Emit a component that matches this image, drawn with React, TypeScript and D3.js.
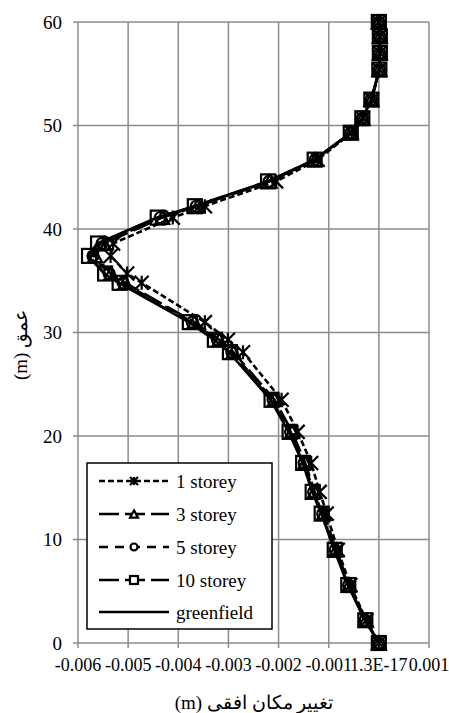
import React from "react";
import * as d3 from "d3";

const depths = [60, 58.6, 57.0, 55.4, 52.5, 50.7, 49.3, 46.7, 44.6, 42.2, 41.1, 38.6, 37.4, 35.7, 34.8, 31.0, 29.3, 28.1, 23.5, 20.4, 17.4, 14.6, 12.5, 9.0, 5.6, 2.2, 0];

const storey1 = [0, 0.00002, 0.00002, 0.00001, -0.00014, -0.00032, -0.00054, -0.00122, -0.00205, -0.00347, -0.00411, -0.00530, -0.00535, -0.00502, -0.00473, -0.00347, -0.00301, -0.00271, -0.00194, -0.00162, -0.00135, -0.00118, -0.00104, -0.00082, -0.00057, -0.00025, 0];
const storey3 = [0, 0.00002, 0.00002, 0.00001, -0.00015, -0.00033, -0.00056, -0.00127, -0.00218, -0.00362, -0.00432, -0.00548, -0.00566, -0.00534, -0.00506, -0.00368, -0.00318, -0.00290, -0.00208, -0.00173, -0.00147, -0.00128, -0.00110, -0.00085, -0.00059, -0.00026, 0];
const storey5 = [0, 0.00002, 0.00002, 0.00001, -0.00015, -0.00033, -0.00056, -0.00127, -0.00219, -0.00364, -0.00436, -0.00552, -0.00570, -0.00538, -0.00510, -0.00372, -0.00322, -0.00293, -0.00211, -0.00176, -0.00149, -0.00130, -0.00112, -0.00087, -0.00060, -0.00027, 0];
const storey10 = [0, 0.00002, 0.00002, 0.00001, -0.00015, -0.00033, -0.00056, -0.00128, -0.00221, -0.00367, -0.00441, -0.00560, -0.00578, -0.00546, -0.00517, -0.00377, -0.00327, -0.00297, -0.00214, -0.00178, -0.00151, -0.00132, -0.00114, -0.00088, -0.00061, -0.00027, 0];
const greenfield = [0, 0.00002, 0.00002, 0.00001, -0.00015, -0.00033, -0.00056, -0.00128, -0.00222, -0.00368, -0.00443, -0.00562, -0.00580, -0.00548, -0.00519, -0.00379, -0.00329, -0.00299, -0.00216, -0.00180, -0.00152, -0.00133, -0.00115, -0.00089, -0.00062, -0.00028, 0];

const xTickValues = [-0.006, -0.005, -0.004, -0.003, -0.002, -0.001, 0, 0.001];
const xTickLabels = ["-0.006", "-0.005", "-0.004", "-0.003", "-0.002", "-0.001", "1.3E-17", "0.001"];
const yTickValues = [0, 10, 20, 30, 40, 50, 60];

const seriesNames = ["1 storey", "3 storey", "5 storey", "10 storey", "greenfield"];
const seriesValues = [storey1, storey3, storey5, storey10, greenfield];
const seriesMarkers = ["asterisk", "triangle", "circle", "square", "none"];
const seriesDash = ["6 3", "20 6", "9 7", "20 6", ""];

const W = 449, H = 713;
const left = 78, right = 429, top = 22, bottom = 643;
const FONT = "Liberation Serif, DejaVu Serif, serif";

function Marker({ type, x, y, s, fill }: { type: string; x: number; y: number; s: number; fill: string }) {
  const sw = 2.2;
  if (type === "square") return <rect x={x - s / 2} y={y - s / 2} width={s} height={s} fill={fill} stroke="#000" strokeWidth={sw} />;
  if (type === "circle") return <circle cx={x} cy={y} r={s / 2 - 0.5} fill={fill} stroke="#000" strokeWidth={sw} />;
  if (type === "triangle") {
    const h = s * 0.9;
    return <path d={`M${x},${y - h / 2}L${x + s / 2},${y + h / 2}L${x - s / 2},${y + h / 2}Z`} fill={fill} stroke="#000" strokeWidth={sw} />;
  }
  if (type === "asterisk") {
    const r = s / 2;
    return (
      <path d={`M${x - r},${y - r}L${x + r},${y + r}M${x - r},${y + r}L${x + r},${y - r}M${x},${y - r}L${x},${y + r}`} stroke="#000" strokeWidth={sw} fill="none" />
    );
  }
  return null;
}

export default function App() {
  const x = d3.scaleLinear().domain([-0.006, 0.001]).range([left, right]);
  const y = d3.scaleLinear().domain([0, 60]).range([bottom, top]);
  const line = d3.line<[number, number]>().x((d) => x(d[0])).y((d) => y(d[1]));

  const legendRows = [481, 514, 547, 580, 612];

  return (
    <svg width={W} height={H} style={{ position: "absolute", left: 0, top: 0, background: "#fff" }}>
      <rect width={W} height={H} fill="#fff" />
      {xTickValues.map((v, i) => (
        <g key={"xg" + i}>
          <line x1={x(v)} x2={x(v)} y1={top} y2={bottom + 5} stroke="#8c8c8c" strokeWidth={1.5} />
          <text x={x(v)} y={671} textAnchor="middle" fontSize={18} fontFamily={FONT} fill="#000">{xTickLabels[i]}</text>
        </g>
      ))}
      {yTickValues.map((v, i) => (
        <g key={"yg" + i}>
          <line x1={left - 5} x2={right} y1={y(v)} y2={y(v)} stroke="#8c8c8c" strokeWidth={1.5} />
          <text x={62} y={y(v)} dy="0.35em" textAnchor="end" fontSize={19} fontFamily={FONT} fill="#000">{v}</text>
        </g>
      ))}
      {seriesValues.map((vals, si) => {
        const pts = vals.map((v, i) => [v, depths[i]] as [number, number]);
        return (
          <g key={"s" + si}>
            <path d={line(pts) || ""} fill="none" stroke="#000" strokeWidth={2.6} strokeDasharray={seriesDash[si]} />
            {seriesMarkers[si] !== "none" && pts.map((p, i) => (
              <Marker key={i} type={seriesMarkers[si]} x={x(p[0])} y={y(p[1])} s={seriesMarkers[si] === "square" ? 14 : seriesMarkers[si] === "circle" ? 12 : 14} fill="none" />
            ))}
          </g>
        );
      })}
      <rect x={87} y={463} width={185} height={166} fill="#fff" stroke="#000" strokeWidth={1.5} />
      {seriesNames.map((n, i) => (
        <g key={"l" + i}>
          <line x1={99} x2={169} y1={legendRows[i]} y2={legendRows[i]} stroke="#000" strokeWidth={2.6} strokeDasharray={seriesDash[i]} />
          <Marker type={seriesMarkers[i]} x={134} y={legendRows[i]} s={8} fill="#fff" />
          <text x={176} y={legendRows[i]} dy="0.35em" fontSize={19} fontFamily={FONT} fill="#000">{n}</text>
        </g>
      ))}
      <text transform={`translate(20, 345) rotate(-90)`} textAnchor="middle" dy="0.35em" fontSize={19} fontFamily={FONT} fill="#000" direction="rtl">عمق (m)</text>
      <text x={254} y={702} textAnchor="middle" dy="0.35em" fontSize={19} fontFamily={FONT} fill="#000" direction="rtl">تغییر مکان افقی (m)</text>
    </svg>
  );
}
